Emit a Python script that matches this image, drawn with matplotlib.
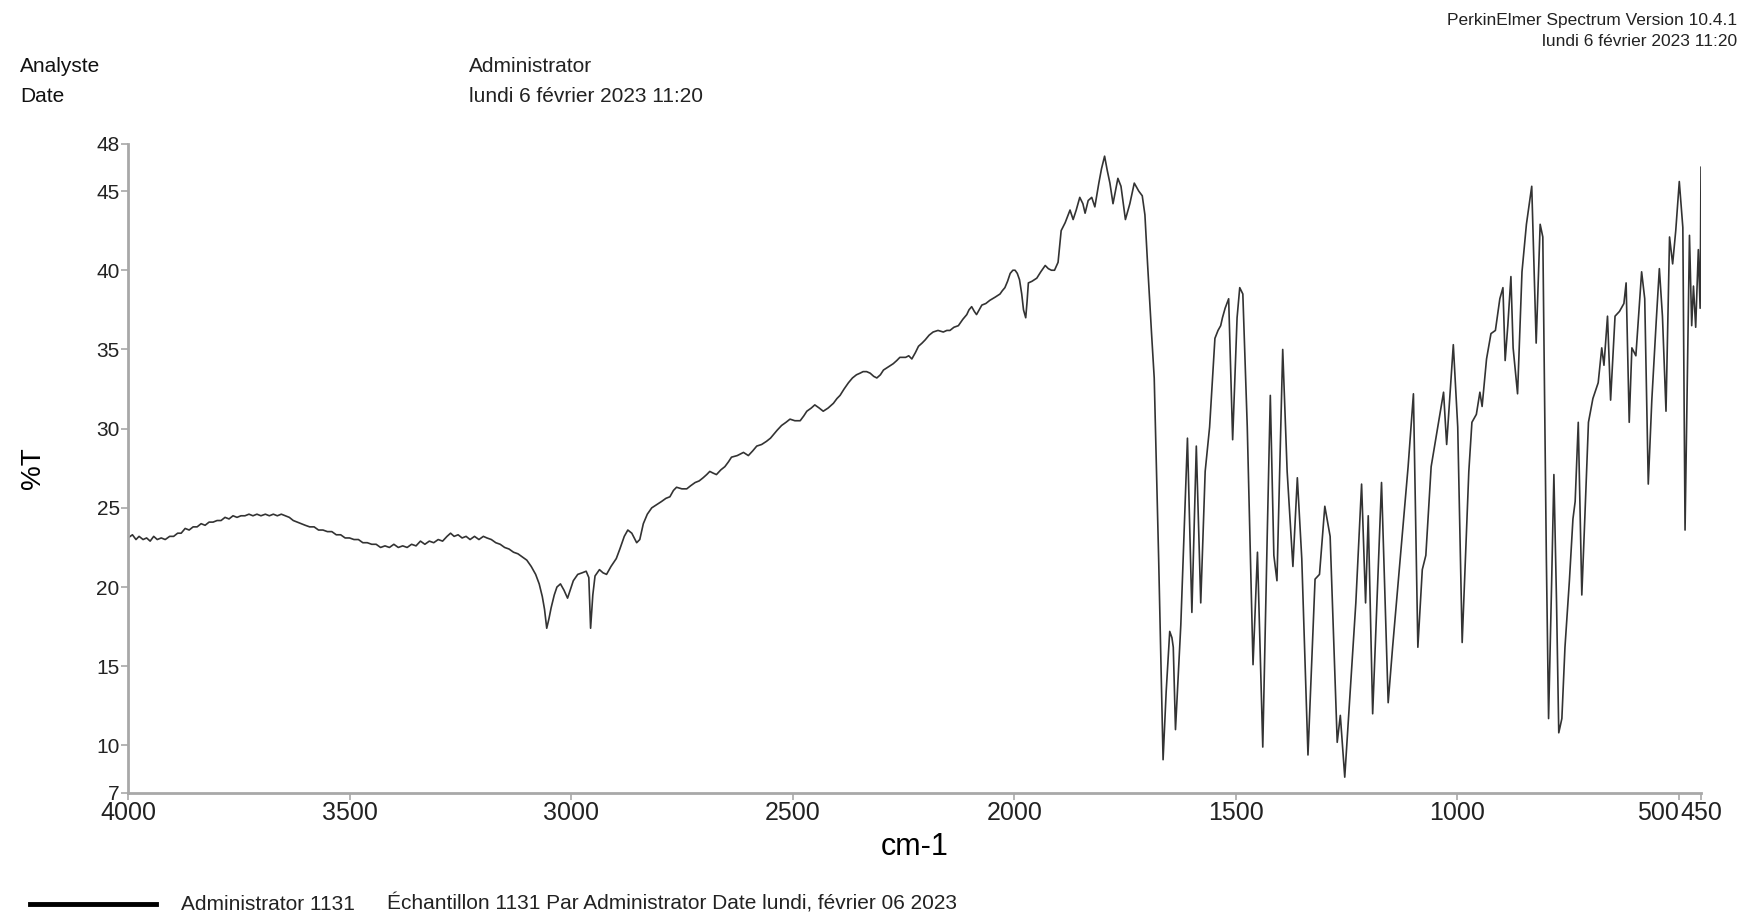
import matplotlib
matplotlib.use("Agg")
import matplotlib.pyplot as plt
import numpy as np

plt.rcParams['font.family'] = ['Liberation Sans', 'DejaVu Sans']

# spectrum (cm-1, %T)
wavenumber = [
    4000, 3990, 3982, 3975, 3966, 3958, 3950, 3942, 3934, 3925, 3916, 3906, 3897, 3888,
    3880, 3871, 3862, 3853, 3844, 3835, 3826, 3817, 3808, 3799, 3790, 3781, 3772, 3763,
    3754, 3745, 3736, 3727, 3718, 3709, 3700, 3690, 3681, 3672, 3663, 3654, 3645, 3636,
    3627, 3618, 3609, 3600, 3590, 3580, 3570, 3560, 3550, 3540, 3530, 3520, 3510, 3500,
    3490, 3480, 3470, 3460, 3450, 3440, 3430, 3420, 3410, 3400, 3390, 3380, 3370, 3360,
    3350, 3340, 3330, 3320, 3310, 3300, 3290, 3280, 3272, 3264, 3255, 3246, 3237, 3228,
    3218, 3208, 3198, 3190, 3180, 3170, 3160, 3150, 3140, 3130, 3120, 3110, 3100, 3090,
    3080, 3072, 3065, 3060, 3055, 3050, 3045, 3038, 3032, 3024, 3016, 3008, 3002, 2995,
    2985, 2975, 2966, 2960, 2956, 2951, 2946, 2936, 2928, 2920, 2910, 2898, 2890, 2880,
    2872, 2863, 2852, 2845, 2837, 2828, 2818, 2807, 2796, 2786, 2777, 2769, 2762, 2750,
    2739, 2730, 2720, 2711, 2702, 2694, 2687, 2680, 2672, 2662, 2653, 2645, 2638, 2625,
    2611, 2600, 2590, 2581, 2570, 2559, 2550, 2544, 2535, 2525, 2515, 2506, 2495, 2483,
    2475, 2468, 2458, 2450, 2440, 2431, 2420, 2408, 2400, 2393, 2384, 2374, 2365, 2356,
    2348, 2341, 2333, 2325, 2317, 2310, 2302, 2295, 2284, 2273, 2265, 2258, 2245, 2238,
    2231, 2223, 2216, 2208, 2201, 2192, 2183, 2172, 2160, 2152, 2145, 2136, 2126, 2116,
    2107, 2102, 2096, 2090, 2085, 2079, 2073, 2064, 2055, 2043, 2032, 2027, 2021, 2015,
    2009, 2003, 1998, 1993, 1988, 1983, 1979, 1974, 1971, 1968, 1960, 1949, 1940, 1930,
    1923, 1916, 1909, 1901, 1894, 1885, 1874, 1867, 1860, 1852, 1845, 1840, 1833, 1825,
    1818, 1809, 1803, 1796, 1790, 1784, 1777, 1766, 1759, 1749, 1739, 1729, 1719, 1711,
    1705, 1699, 1690, 1684, 1674, 1664, 1657, 1649, 1644, 1641, 1636, 1624, 1609, 1599,
    1589, 1579, 1569, 1559, 1547, 1540, 1534, 1530, 1524, 1516, 1507, 1497, 1491, 1484,
    1474, 1461, 1451, 1439, 1429, 1422, 1414, 1407, 1394, 1384, 1371, 1361, 1351, 1337,
    1321, 1311, 1299, 1287, 1271, 1264, 1254, 1229, 1216, 1207, 1201, 1191, 1171, 1156,
    1146, 1124, 1111, 1099, 1089, 1079, 1071, 1059, 1044, 1031, 1024, 1009, 999, 989,
    974, 967, 957, 949, 944, 934, 924, 914, 904, 897, 892, 886, 879, 874,
    864, 854, 844, 832, 822, 813, 807, 799, 794, 787, 782, 776, 771, 764,
    757, 747, 739, 734, 727, 719, 712, 704, 694, 682, 674, 669, 661, 654,
    644, 634, 624, 619, 612, 606, 597, 584, 577, 569, 561, 551, 544, 537,
    529, 521, 514, 507, 499, 491, 486, 476, 471, 467, 462, 456, 452, 450,
]
transmittance = [
    23.1, 23.3, 23.0, 23.2, 23.0, 23.1, 22.9, 23.2, 23.0, 23.1, 23.0, 23.2, 23.2, 23.4,
    23.4, 23.7, 23.6, 23.8, 23.8, 24.0, 23.9, 24.1, 24.1, 24.2, 24.2, 24.4, 24.3, 24.5,
    24.4, 24.5, 24.5, 24.6, 24.5, 24.6, 24.5, 24.6, 24.5, 24.6, 24.5, 24.6, 24.5, 24.4,
    24.2, 24.1, 24.0, 23.9, 23.8, 23.8, 23.6, 23.6, 23.5, 23.5, 23.3, 23.3, 23.1, 23.1,
    23.0, 23.0, 22.8, 22.8, 22.7, 22.7, 22.5, 22.6, 22.5, 22.7, 22.5, 22.6, 22.5, 22.7,
    22.6, 22.9, 22.7, 22.9, 22.8, 23.0, 22.9, 23.2, 23.4, 23.2, 23.3, 23.1, 23.2, 23.0,
    23.2, 23.0, 23.2, 23.1, 23.0, 22.8, 22.7, 22.5, 22.4, 22.2, 22.1, 21.9, 21.7, 21.3,
    20.8, 20.2, 19.4, 18.6, 17.4, 18.0, 18.7, 19.5, 20.0, 20.2, 19.8, 19.3, 19.8, 20.4,
    20.8, 20.9, 21.0, 20.6, 17.4, 19.5, 20.7, 21.1, 20.9, 20.8, 21.3, 21.8, 22.4, 23.2,
    23.6, 23.4, 22.8, 23.0, 24.0, 24.6, 25.0, 25.2, 25.4, 25.6, 25.7, 26.1, 26.3, 26.2,
    26.2, 26.4, 26.6, 26.7, 26.9, 27.1, 27.3, 27.2, 27.1, 27.4, 27.6, 27.9, 28.2, 28.3,
    28.5, 28.3, 28.6, 28.9, 29.0, 29.2, 29.4, 29.6, 29.9, 30.2, 30.4, 30.6, 30.5, 30.5,
    30.8, 31.1, 31.3, 31.5, 31.3, 31.1, 31.3, 31.6, 31.9, 32.1, 32.5, 32.9, 33.2, 33.4,
    33.5, 33.6, 33.6, 33.5, 33.3, 33.2, 33.4, 33.7, 33.9, 34.1, 34.3, 34.5, 34.5, 34.6,
    34.4, 34.8, 35.2, 35.4, 35.6, 35.9, 36.1, 36.2, 36.1, 36.2, 36.2, 36.4, 36.5, 36.9,
    37.2, 37.5, 37.7, 37.4, 37.2, 37.5, 37.8, 37.9, 38.1, 38.3, 38.5, 38.7, 38.9, 39.3,
    39.8, 40.0, 40.0, 39.8, 39.4, 38.5, 37.5, 37.0, 38.0, 39.2, 39.3, 39.5, 39.9, 40.3,
    40.1, 40.0, 40.0, 40.5, 42.5, 43.0, 43.8, 43.2, 43.8, 44.6, 44.2, 43.6, 44.4, 44.6,
    44.0, 45.5, 46.4, 47.2, 46.3, 45.5, 44.2, 45.8, 45.3, 43.2, 44.2, 45.5, 45.0, 44.7,
    43.5, 40.4, 36.0, 33.2, 21.8, 9.1, 13.4, 17.2, 16.8, 16.2, 11.0, 17.6, 29.4, 18.4,
    28.9, 19.0, 27.3, 30.1, 35.7, 36.2, 36.5, 37.0, 37.6, 38.2, 29.3, 37.0, 38.9, 38.5,
    30.1, 15.1, 22.2, 9.9, 23.2, 32.1, 22.0, 20.4, 35.0, 27.3, 21.3, 26.9, 21.8, 9.4,
    20.5, 20.8, 25.1, 23.2, 10.2, 11.9, 8.0, 19.0, 26.5, 19.0, 24.5, 12.0, 26.6, 12.7,
    16.2, 23.4, 27.6, 32.2, 16.2, 21.1, 22.0, 27.6, 30.1, 32.3, 29.0, 35.3, 30.1, 16.5,
    27.3, 30.4, 30.9, 32.3, 31.4, 34.4, 36.0, 36.2, 38.2, 38.9, 34.3, 36.5, 39.6, 35.1,
    32.2, 39.9, 42.9, 45.3, 35.4, 42.9, 42.1, 21.8, 11.7, 20.4, 27.1, 19.0, 10.8, 11.7,
    16.2, 20.4, 24.3, 25.4, 30.4, 19.5, 24.5, 30.4, 31.9, 32.9, 35.1, 34.0, 37.1, 31.8,
    37.1, 37.4, 37.9, 39.2, 30.4, 35.1, 34.6, 39.9, 38.2, 26.5, 31.8, 36.8, 40.1, 37.1,
    31.1, 42.1, 40.4, 42.5, 45.6, 42.7, 23.6, 42.2, 36.5, 39.0, 36.4, 41.3, 37.6, 46.5,
]

x_ticks = [4000, 3500, 3000, 2500, 2000, 1500, 1000, 500, 450]
y_ticks = [7, 10, 15, 20, 25, 30, 35, 40, 45, 48]

W, H = 1742, 914
fig = plt.figure(figsize=(W / 100, H / 100), dpi=100)
ax = fig.add_axes([128 / W, 1 - 793 / H, (1701 - 128) / W, (793 - 143.5) / H])

ax.plot(wavenumber, transmittance, color='#333333', lw=1.2)

ax.set_xlim(4000, 450)
ax.set_ylim(7, 48)
ax.set_xticks(x_ticks)
ax.set_xticklabels([str(t) for t in x_ticks])
ax.set_yticks(y_ticks)
ax.set_yticklabels([str(t) for t in y_ticks])

for s in ['top', 'right']:
    ax.spines[s].set_visible(False)
for s in ['left', 'bottom']:
    ax.spines[s].set_color('#a8a8a8')
    ax.spines[s].set_linewidth(2)

ax.tick_params(axis='both', direction='out', length=5, width=1.2, color='#a8a8a8',
               labelcolor='#222222', pad=1)
ax.tick_params(axis='y', labelsize=15)
ax.tick_params(axis='x', labelsize=18)
xl = ax.get_xticklabels()
xl[-2].set_ha('right')

ax.set_xlabel('cm-1', fontsize=22, labelpad=5)
ax.set_ylabel('%T', fontsize=20, labelpad=36)

# header text
fig.text(0.997, 1 - 20 / H, 'PerkinElmer Spectrum Version 10.4.1', ha='right', va='center',
         fontsize=12.5, color='#222222')
fig.text(0.997, 1 - 41 / H, 'lundi 6 février 2023 11:20', ha='right', va='center',
         fontsize=12.5, color='#222222')
fig.text(20 / W, 1 - 67 / H, 'Analyste', ha='left', va='center', fontsize=15, color='#111111')
fig.text(20 / W, 1 - 97 / H, 'Date', ha='left', va='center', fontsize=15, color='#111111')
fig.text(469 / W, 1 - 67 / H, 'Administrator', ha='left', va='center', fontsize=15, color='#222222')
fig.text(469 / W, 1 - 97 / H, 'lundi 6 février 2023 11:20', ha='left', va='center',
         fontsize=15, color='#222222')

# legend line at the bottom
fig.add_artist(plt.Line2D([30 / W, 156 / W], [1 - 904 / H, 1 - 904 / H], color='black', lw=3.5))
fig.text(181 / W, 1 - 904 / H, 'Administrator 1131', ha='left', va='center', fontsize=15,
         color='#222222')
fig.text(387 / W, 1 - 904 / H, 'Échantillon 1131 Par Administrator Date lundi, février 06 2023',
         ha='left', va='center', fontsize=15, color='#222222')

fig.savefig('out.png', dpi=100)
